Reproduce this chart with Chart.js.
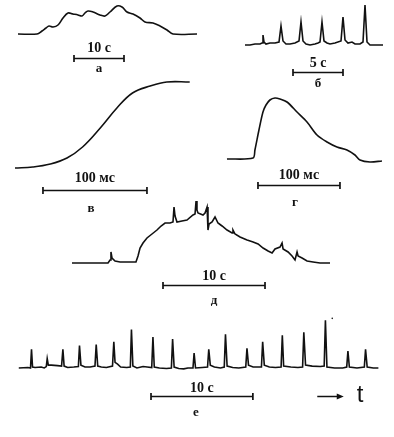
<!DOCTYPE html>
<html>
<head>
<meta charset="utf-8">
<script src="https://cdn.jsdelivr.net/npm/chart.js@4/dist/chart.umd.min.js"></script>
<style>
  html, body { margin: 0; padding: 0; background: #fff; }
  body { width: 394px; height: 437px; position: relative; overflow: hidden; }
  .panel { position: absolute; }
</style>
</head>
<body>
<div class="panel" id="box-a" style="left:10px;top:0px;width:195px;height:78px"><canvas id="ch-a"></canvas></div>
<div class="panel" id="box-b" style="left:235px;top:0px;width:159px;height:90px"><canvas id="ch-b"></canvas></div>
<div class="panel" id="box-v" style="left:5px;top:75px;width:195px;height:145px"><canvas id="ch-v"></canvas></div>
<div class="panel" id="box-g" style="left:215px;top:85px;width:179px;height:130px"><canvas id="ch-g"></canvas></div>
<div class="panel" id="box-d" style="left:62px;top:190px;width:278px;height:120px"><canvas id="ch-d"></canvas></div>
<div class="panel" id="box-e" style="left:5px;top:305px;width:389px;height:125px"><canvas id="ch-e"></canvas></div>
<script>
// panel а : time, s / signal
const a_t = [0, 3.8, 4.8, 5.6, 6.2, 7.0, 8.0, 9.0, 10.0, 11.0, 12.0, 12.8, 13.4, 14.0, 15.0, 16.4, 17.4, 18.4, 19.8, 20.8, 21.8, 23.0, 24.4, 25.4, 27.0, 28.4, 29.8, 31.0, 35.8];
const a_y = [0, 0, 3, 6, 8, 7, 9, 16, 21, 20, 19, 18, 21, 23, 22, 19, 18, 22, 28, 27, 22, 20, 16, 12, 11, 8, 4, 0, 0];

// panel б : time, s
const b_t = [0, 0.5, 1.0, 1.5, 1.7, 1.8, 1.9, 2.1, 2.5, 3.0, 3.4, 3.6, 3.8, 4.1, 4.5, 5.0, 5.4, 5.6, 5.8, 6.1, 6.5, 7.0, 7.3, 7.5, 7.7, 7.9, 8.2, 8.5, 9.0, 9.6, 9.8, 10.0, 10.3, 10.7, 11.0, 11.5, 11.8, 12.0, 12.2, 12.5, 13.0, 13.8];
const b_y = [0, 0, 1, 1, 2, 10, 3, 1, 2, 2, 3, 19, 4, 1, 1, 2, 4, 23, 4, 1, 0, 1, 2, 3, 23, 4, 2, 1, 2, 4, 28, 5, 2, 3, 1, 1, 3, 40, 3, 0, 0, 0];

// panel в : time, ms
const v_t = [0, 17, 34, 50, 65, 82, 98, 113, 130, 146, 168];
const v_y = [0, 1, 4, 10, 21, 40, 60, 75, 82, 86, 86];

// panel г : time, ms
const g_t = [0, 31.7, 34.1, 39.0, 43.9, 47.6, 52.4, 58.5, 64.6, 73.2, 85.4, 97.6, 109.8, 122.0, 134.1, 146.3, 156.1, 162.2, 174.4, 189.0];
const g_y = [0, 1, 9, 29, 47, 54, 59, 61, 60, 57, 47, 37, 24, 17, 12, 9, 4, -1, -3, -2];

// panel д : time, s
const d_t = [0, 3.53, 3.73, 3.82, 3.92, 4.22, 4.71, 5.69, 6.27, 6.47, 6.67, 6.96, 7.35, 7.84, 8.33, 8.73, 9.12, 9.61, 9.90, 10.0, 10.10, 10.29, 10.78, 11.27, 11.86, 12.06, 12.16, 12.25, 12.35, 12.84, 13.04, 13.24, 13.33, 13.43, 13.73, 14.02, 14.31, 14.71, 15.20, 15.69, 15.78, 15.98, 16.47, 17.16, 17.75, 18.24, 18.73, 19.22, 19.61, 19.90, 20.39, 20.59, 20.69, 21.18, 21.57, 21.86, 22.06, 22.16, 22.55, 23.04, 23.63, 24.31, 25.29];
const d_y = [0, 0, 3, 11, 5, 2, 1, 1, 1, 7, 15, 20, 25, 29, 33, 37, 40, 40, 41, 56, 47, 41, 42, 43, 48, 49, 62, 53, 50, 48, 50, 56, 33, 39, 41, 46, 40, 37, 33, 30, 33, 29, 26, 23, 21, 19, 15, 12, 10, 14, 16, 20, 14, 11, 7, 3, 11, 7, 5, 2, 1, 0, 0];

// panel е : time, s
const e_t = [0, 0.9, 1.15, 1.25, 1.35, 1.6, 2.2, 2.5, 2.7, 2.79, 2.9, 3.2, 3.8, 4.2, 4.33, 4.45, 4.8, 5.4, 5.85, 5.96, 6.1, 6.5, 7.0, 7.48, 7.60, 7.75, 8.1, 8.6, 9.2, 9.33, 9.45, 9.7, 10.0, 10.6, 10.95, 11.06, 11.2, 11.6, 12.2, 12.6, 13.05, 13.17, 13.3, 13.8, 14.5, 14.98, 15.10, 15.25, 15.7, 16.2, 16.6, 17.1, 17.21, 17.35, 18.0, 18.53, 18.65, 18.8, 19.2, 19.8, 20.17, 20.29, 20.45, 21.0, 21.6, 22.28, 22.40, 22.55, 23.0, 23.82, 23.94, 24.1, 24.6, 25.2, 25.75, 25.87, 26.0, 26.7, 27.4, 27.86, 27.98, 28.15, 28.8, 29.6, 29.98, 30.10, 30.25, 31.0, 31.8, 32.19, 32.31, 32.45, 33.2, 33.92, 34.04, 34.2, 34.8, 35.3];
const e_y = [0, 0.5, 0, 20, 1, 0.5, 1, 0, 1.5, 10, 3, 3, 2.5, 2, 20, 2, 0.5, 1, 1.5, 24, 3, 1, 1, 2, 25, 2, 1, 0.5, 2, 28, 6, 4, 1, 0.5, 1, 41, 2, 0, 1.5, 1, 0.5, 33, 1, 0, -0.5, 0, 31, 1, -0.5, -1, 0, 0, 16, 0, 0.5, 1, 20, 3, 1, 0, 1, 36, 2, 0.5, 0, 1, 21, 3, 1, 1, 28, 3, 1, 0.5, 1, 35, 2, 1, 0.5, 1, 38, 3, 2, 1.5, 2, 51, 1, 0, 0, 1, 18, 1, 0, 1, 20, 1, 0, 0];
const e_speck = [{ x: 30.77, y: 53 }];

const ink = "#111";

function pts(t, y) {
  return t.map((v, i) => ({ x: v, y: y[i] }));
}

const scaleBar = {
  id: "scaleBar",
  afterDraw(chart, args, o) {
    const ctx = chart.ctx;
    const x = chart.scales.x, y = chart.scales.y;
    const x1 = x.getPixelForValue(o.from);
    const x2 = x.getPixelForValue(o.from + o.len);
    const yy = Math.round(y.getPixelForValue(o.level)) + 0.5;
    const xc = (x1 + x2) / 2;
    ctx.save();
    ctx.strokeStyle = ink;
    ctx.lineWidth = 1.7;
    ctx.beginPath();
    ctx.moveTo(x1, yy); ctx.lineTo(x2, yy);
    ctx.moveTo(x1, yy - 3.5); ctx.lineTo(x1, yy + 3.5);
    ctx.moveTo(x2, yy - 3.5); ctx.lineTo(x2, yy + 3.5);
    ctx.stroke();
    ctx.fillStyle = ink;
    ctx.textAlign = "center";
    ctx.textBaseline = "middle";
    ctx.font = "bold 14px 'Liberation Serif', 'DejaVu Serif', serif";
    ctx.fillText(o.label, xc + (o.labelDx || 0), yy + o.labelDy);
    ctx.font = "bold 13px 'Liberation Serif', 'DejaVu Serif', serif";
    ctx.fillText(o.letter, xc + (o.letterDx || 0), yy + o.letterDy);
    if (o.arrowFrom !== undefined) {
      const ax1 = x.getPixelForValue(o.arrowFrom);
      const ax2 = x.getPixelForValue(o.arrowTo);
      ctx.lineWidth = 1.5;
      ctx.beginPath();
      ctx.moveTo(ax1, yy); ctx.lineTo(ax2 - 5, yy);
      ctx.stroke();
      ctx.beginPath();
      ctx.moveTo(ax2, yy); ctx.lineTo(ax2 - 7, yy - 3); ctx.lineTo(ax2 - 7, yy + 3);
      ctx.closePath(); ctx.fill();
      ctx.font = "24px 'Liberation Sans', Arial, sans-serif";
      ctx.fillText("t", x.getPixelForValue(o.tAt), yy - 1);
    }
    ctx.restore();
  }
};

function panel(id, t, y, xr, yr, tension, bar, extra) {
  const sets = [{
    data: pts(t, y),
    borderColor: ink,
    borderWidth: 1.6,
    pointRadius: 0,
    tension: tension,
    fill: false
  }];
  if (extra) {
    sets.push({
      data: extra,
      showLine: false,
      pointRadius: 0.8,
      pointBackgroundColor: ink,
      pointBorderWidth: 0
    });
  }
  return new Chart(document.getElementById(id), {
    type: "line",
    data: { datasets: sets },
    options: {
      responsive: true,
      maintainAspectRatio: false,
      animation: false,
      layout: { padding: 0 },
      scales: {
        x: { type: "linear", min: xr[0], max: xr[1], display: false },
        y: { type: "linear", min: yr[0], max: yr[1], display: false }
      },
      plugins: {
        legend: { display: false },
        tooltip: { enabled: false },
        scaleBar: bar
      }
    },
    plugins: [scaleBar]
  });
}

panel("ch-a", a_t, a_y, [-1.6, 37.4], [-44, 34], 0.35,
  { from: 11.2, len: 10, level: -23.5, label: "10 с", letter: "а", labelDy: -10, letterDy: 10 });
panel("ch-b", b_t, b_y, [-1, 14.9], [-45, 45], 0,
  { from: 4.8, len: 5, level: -27, label: "5 с", letter: "б", labelDy: -9, letterDy: 11 });
panel("ch-v", v_t, v_y, [-9.6, 177.9], [-52, 93], 0.4,
  { from: 26.9, len: 100, level: -22, label: "100 мс", letter: "в", labelDy: -12, letterDy: 18, letterDx: -4 });
panel("ch-g", g_t, g_y, [-14.6, 203.7], [-56, 74], 0.3,
  { from: 37.8, len: 100, level: -26, label: "100 мс", letter: "г", labelDy: -10, letterDy: 17, letterDx: -4 });
panel("ch-d", d_t, d_y, [-0.98, 26.27], [-47, 73], 0,
  { from: 8.92, len: 10, level: -22, label: "10 с", letter: "д", labelDy: -9, letterDy: 15 });
panel("ch-e", e_t, e_y, [-0.96, 36.44], [-62, 63], 0,
  { from: 12.98, len: 10, level: -30, label: "10 с", letter: "е", labelDy: -8, letterDy: 16, letterDx: -6,
    arrowFrom: 29.3, arrowTo: 31.9, tAt: 33.5 }, e_speck);
</script>
</body>
</html>
